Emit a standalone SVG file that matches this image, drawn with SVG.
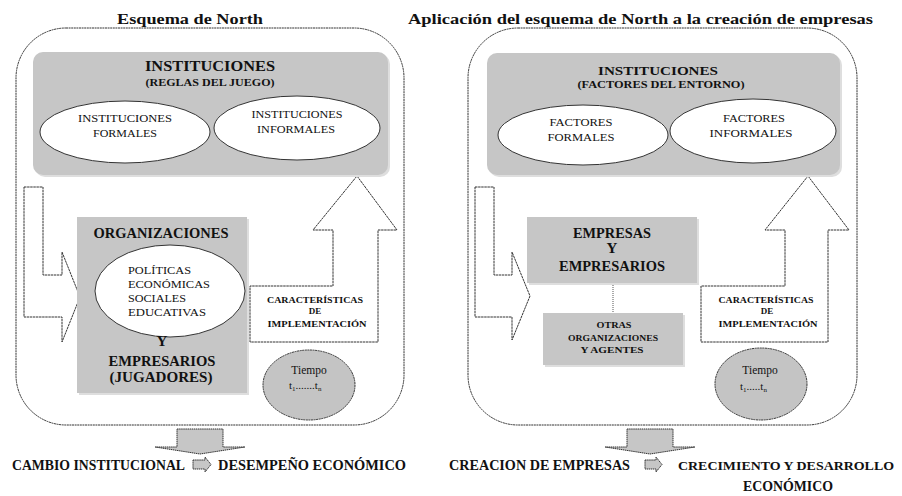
<svg xmlns="http://www.w3.org/2000/svg" width="902" height="496" viewBox="0 0 902 496">
<style>
text{font-family:"Liberation Serif","Times New Roman",serif;fill:#111;}
.b{font-weight:bold;}
.ttl{font-weight:bold;font-size:15px;}
.outer{fill:none;stroke:#333;stroke-width:1;stroke-dasharray:2 0.6;}
.gbox{fill:#c6c6c6;}
.shadow{fill:#dedede;}
.ell{fill:#fff;stroke:#333;stroke-width:1;}
.gell{fill:#c4c4c4;stroke:#333;stroke-width:1;stroke-dasharray:2 0.6;}
.arr{fill:#fff;stroke:#333;stroke-width:1;stroke-dasharray:2.5 0.6;}
.garr{fill:#c6c6c6;stroke:#333;stroke-width:1;stroke-dasharray:1.5 0.6;}
.dot{fill:none;stroke:#555;stroke-width:1;stroke-dasharray:1 1;}
</style>

<g id="titles">
<text class="ttl" x="117" y="24" textLength="146" lengthAdjust="spacingAndGlyphs">Esquema de North</text>
<text class="ttl" x="408" y="24" textLength="465" lengthAdjust="spacingAndGlyphs">Aplicación del esquema de North a la creación de empresas</text>
</g>

<g id="left-frame"><rect class="outer" x="16" y="28" width="388" height="397" rx="50" ry="50"/></g>
<g id="right-frame"><rect class="outer" x="468" y="28" width="389" height="397" rx="50" ry="50"/></g>

<g id="connectors">
<polygon class="arr" points="24,187 43,187 43,275 62,275 62,252 80,297 62,342 62,317 24,317"/>
<polygon class="arr" points="357,176 397,230 378,230 378,342 250,342 250,286 333,286 333,230 313,230"/>
<polygon class="garr" points="177,429 223,429 223,447 245,447 200,454 155,447 177,447"/>
<polygon class="garr" points="193,460 205,460 205,457 211,464.5 205,472 205,469 193,469"/>
<polygon class="arr" points="475,187 494,187 494,275 512,275 512,252 530,296 512,340 512,317 475,317"/>
<polygon class="arr" points="808,176 849,230 828,230 828,342 701,342 701,286 785,286 785,230 765,230"/>
<polygon class="garr" points="627,429 673,429 673,447 695,447 650,454 605,447 627,447"/>
<polygon class="garr" points="645,460 656,460 656,457 662,464.5 656,472 656,469 645,469"/>
<line class="dot" x1="613" y1="283" x2="613" y2="313"/>
</g>

<g id="instituciones-left">
<rect class="shadow" x="35" y="54" width="355" height="123" rx="10"/>
<rect class="gbox" x="33" y="52" width="355" height="123" rx="10"/>
<text class="b" x="210" y="71" font-size="14" text-anchor="middle" textLength="130" lengthAdjust="spacingAndGlyphs">INSTITUCIONES</text>
<text class="b" x="210" y="86" font-size="10.5" text-anchor="middle" textLength="129" lengthAdjust="spacingAndGlyphs">(REGLAS DEL JUEGO)</text>
</g>
<g id="inst-formales">
<ellipse class="ell" cx="125" cy="132" rx="85" ry="31"/>
<text x="125" y="122" font-size="11" text-anchor="middle" textLength="94" lengthAdjust="spacingAndGlyphs">INSTITUCIONES</text>
<text x="125" y="137" font-size="11" text-anchor="middle" textLength="64" lengthAdjust="spacingAndGlyphs">FORMALES</text>
</g>
<g id="inst-informales">
<ellipse class="ell" cx="297" cy="128" rx="83" ry="32"/>
<text x="297" y="118" font-size="11" text-anchor="middle" textLength="91" lengthAdjust="spacingAndGlyphs">INSTITUCIONES</text>
<text x="296" y="133" font-size="11" text-anchor="middle" textLength="78" lengthAdjust="spacingAndGlyphs">INFORMALES</text>
</g>

<g id="organizaciones">
<rect class="shadow" x="79" y="219" width="170" height="176"/>
<rect class="gbox" x="77" y="217" width="170" height="176"/>
<text class="b" x="161" y="238" font-size="15" text-anchor="middle" textLength="135" lengthAdjust="spacingAndGlyphs">ORGANIZACIONES</text>
<ellipse class="ell" cx="170" cy="291" rx="75" ry="46"/>
<text x="128" y="274" font-size="11" textLength="63" lengthAdjust="spacingAndGlyphs">POLÍTICAS</text>
<text x="128" y="288" font-size="11" textLength="82" lengthAdjust="spacingAndGlyphs">ECONÓMICAS</text>
<text x="128" y="302" font-size="11" textLength="58" lengthAdjust="spacingAndGlyphs">SOCIALES</text>
<text x="128" y="316" font-size="11" textLength="78" lengthAdjust="spacingAndGlyphs">EDUCATIVAS</text>
<text class="b" x="162" y="346" font-size="15" text-anchor="middle">Y</text>
<text class="b" x="162" y="366" font-size="15" text-anchor="middle" textLength="107" lengthAdjust="spacingAndGlyphs">EMPRESARIOS</text>
<text class="b" x="161" y="382" font-size="15" text-anchor="middle" textLength="103" lengthAdjust="spacingAndGlyphs">(JUGADORES)</text>
</g>

<g id="caract-left">
<text class="b" x="315" y="303" font-size="9" text-anchor="middle" textLength="96" lengthAdjust="spacingAndGlyphs">CARACTERÍSTICAS</text>
<text class="b" x="315" y="314" font-size="9" text-anchor="middle">DE</text>
<text class="b" x="317" y="327" font-size="9" text-anchor="middle" textLength="99" lengthAdjust="spacingAndGlyphs">IMPLEMENTACIÓN</text>
</g>

<g id="tiempo-left">
<ellipse class="gell" cx="309" cy="385" rx="46" ry="35"/>
<text x="309" y="374" font-size="11.5" text-anchor="middle">Tiempo</text>
<text x="289" y="389" font-size="11">t<tspan font-size="7" dy="2">1</tspan><tspan dy="-2">.......</tspan>t<tspan font-size="7" dy="2">n</tspan></text>
</g>

<g id="bottom-left">
<text class="b" x="12" y="470" font-size="15" textLength="173" lengthAdjust="spacingAndGlyphs">CAMBIO INSTITUCIONAL</text>
<text class="b" x="218" y="470" font-size="15" textLength="188" lengthAdjust="spacingAndGlyphs">DESEMPEÑO ECONÓMICO</text>
</g>

<g id="instituciones-right">
<rect class="shadow" x="489" y="55" width="353" height="122" rx="10"/>
<rect class="gbox" x="487" y="53" width="353" height="122" rx="10"/>
<text class="b" x="658" y="75" font-size="13.5" text-anchor="middle" textLength="120" lengthAdjust="spacingAndGlyphs">INSTITUCIONES</text>
<text class="b" x="661" y="88" font-size="10" text-anchor="middle" textLength="167" lengthAdjust="spacingAndGlyphs">(FACTORES DEL ENTORNO)</text>
</g>
<g id="fact-formales">
<ellipse class="ell" cx="583" cy="135" rx="85" ry="30"/>
<text x="581" y="126" font-size="11" text-anchor="middle" textLength="63" lengthAdjust="spacingAndGlyphs">FACTORES</text>
<text x="581" y="141" font-size="11" text-anchor="middle" textLength="67" lengthAdjust="spacingAndGlyphs">FORMALES</text>
</g>
<g id="fact-informales">
<ellipse class="ell" cx="753" cy="131" rx="83" ry="32"/>
<text x="754" y="122" font-size="11" text-anchor="middle" textLength="62" lengthAdjust="spacingAndGlyphs">FACTORES</text>
<text x="751" y="137" font-size="11" text-anchor="middle" textLength="83" lengthAdjust="spacingAndGlyphs">INFORMALES</text>
</g>

<g id="empresas">
<rect class="shadow" x="529" y="219" width="170" height="66"/>
<rect class="gbox" x="527" y="217" width="170" height="66"/>
<text class="b" x="612" y="238" font-size="15" text-anchor="middle" textLength="78" lengthAdjust="spacingAndGlyphs">EMPRESAS</text>
<text class="b" x="612" y="253" font-size="15" text-anchor="middle">Y</text>
<text class="b" x="612" y="271" font-size="15" text-anchor="middle" textLength="106" lengthAdjust="spacingAndGlyphs">EMPRESARIOS</text>
</g>

<g id="otras">
<rect class="shadow" x="545" y="315" width="140" height="52"/>
<rect class="gbox" x="543" y="313" width="140" height="52"/>
<text class="b" x="614" y="328" font-size="8" text-anchor="middle" textLength="35" lengthAdjust="spacingAndGlyphs">OTRAS</text>
<text class="b" x="613" y="341" font-size="8" text-anchor="middle" textLength="90" lengthAdjust="spacingAndGlyphs">ORGANIZACIONES</text>
<text class="b" x="612" y="353" font-size="8" text-anchor="middle" textLength="63" lengthAdjust="spacingAndGlyphs">Y AGENTES</text>
</g>

<g id="caract-right">
<text class="b" x="766" y="303" font-size="9" text-anchor="middle" textLength="95" lengthAdjust="spacingAndGlyphs">CARACTERÍSTICAS</text>
<text class="b" x="767" y="314" font-size="9" text-anchor="middle">DE</text>
<text class="b" x="768" y="327" font-size="9" text-anchor="middle" textLength="99" lengthAdjust="spacingAndGlyphs">IMPLEMENTACIÓN</text>
</g>

<g id="tiempo-right">
<ellipse class="gell" cx="761" cy="384" rx="46" ry="36"/>
<text x="760" y="374" font-size="11.5" text-anchor="middle">Tiempo</text>
<text x="740" y="390" font-size="11">t<tspan font-size="7" dy="2">1</tspan><tspan dy="-2">.....</tspan>t<tspan font-size="7" dy="2">n</tspan></text>
</g>

<g id="bottom-right">
<text class="b" x="449" y="470" font-size="15" textLength="181" lengthAdjust="spacingAndGlyphs">CREACION DE EMPRESAS</text>
<text class="b" x="678" y="470" font-size="13" textLength="216" lengthAdjust="spacingAndGlyphs">CRECIMIENTO Y DESARROLLO</text>
<text class="b" x="743" y="491" font-size="15" textLength="90" lengthAdjust="spacingAndGlyphs">ECONÓMICO</text>
</g>
</svg>
